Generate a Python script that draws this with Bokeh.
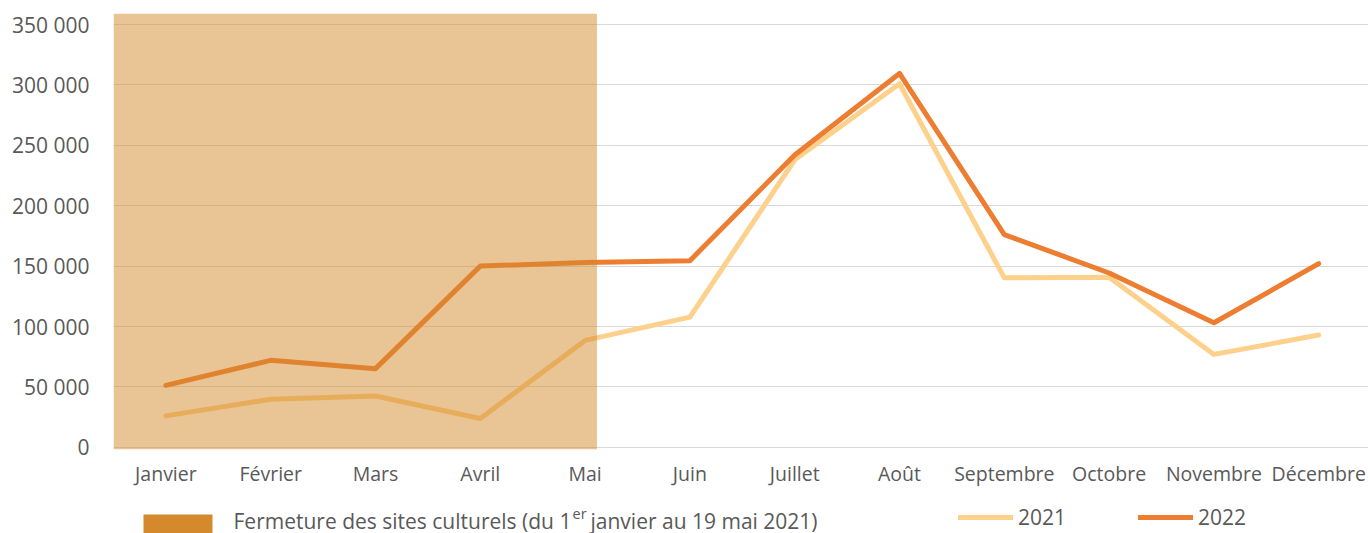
from bokeh.plotting import figure
from bokeh.layouts import column
from bokeh.models import (Range1d, FixedTicker, BoxAnnotation, Legend, LegendItem,
                          Label, ColumnDataSource)
from bokeh.embed import file_html
from bokeh.resources import INLINE

# ---- data -------------------------------------------------------------
months = ["Janvier", "Février", "Mars", "Avril", "Mai", "Juin", "Juillet",
          "Août", "Septembre", "Octobre", "Novembre", "Décembre"]
visitors_2021 = [26000, 39800, 42500, 23800, 88500, 107800, 238000, 301000,
                 140300, 140800, 76900, 92900]
visitors_2022 = [51300, 72000, 65100, 150000, 153000, 154500, 242000, 309500,
                 176100, 144300, 103100, 152000]
y_ticks = [0, 50000, 100000, 150000, 200000, 250000, 300000, 350000]
y_tick_labels = ["0", "50 000", "100 000", "150 000", "200 000", "250 000",
                 "300 000", "350 000"]
series_labels = ["2021", "2022"]
closure_label_parts = ["Fermeture des sites culturels (du 1", "er",
                       "janvier au 19 mai 2021)"]
# closure period, in month-index units (each month spans i-0.5 .. i+0.5)
closure_start = -0.5                 # 1 January
closure_end = 3.5 + 19 / 31          # 19 May

month_index = list(range(len(months)))

# ---- styles -----------------------------------------------------------
C21 = "#FDD08B"
C22 = "#ED7D31"
CLOSURE = "#D4892C"
TXT = "#595959"
FONT = "Open Sans"
LW = 5

W = 1368
H_MAIN = 495
H_LEG = 38
FRAME_LEFT = 113   # legend strip's frame is aligned with the chart's frame

src = ColumnDataSource(dict(x=month_index, y21=visitors_2021, y22=visitors_2022))

p = figure(width=W, height=H_MAIN, output_backend="svg", toolbar_location=None,
           x_range=Range1d(-0.5, 11.475), y_range=Range1d(-1820, 359110),
           min_border_left=FRAME_LEFT, min_border_right=0, min_border_top=13,
           min_border_bottom=H_MAIN - 13 - 436)
p.outline_line_color = None
p.background_fill_color = "white"
p.border_fill_color = "white"

r21 = p.line("x", "y21", source=src, line_color=C21, line_width=LW,
             line_cap="round", line_join="round")
r22 = p.line("x", "y22", source=src, line_color=C22, line_width=LW,
             line_cap="round", line_join="round")

p.add_layout(BoxAnnotation(left=closure_start, right=closure_end,
                           fill_color=CLOSURE, fill_alpha=0.5, line_color=None))

# axes
p.xaxis.ticker = FixedTicker(ticks=month_index)
p.xaxis.major_label_overrides = {i: m for i, m in zip(month_index, months)}
p.yaxis.ticker = FixedTicker(ticks=y_ticks)
p.yaxis.major_label_overrides = {t: l for t, l in zip(y_ticks, y_tick_labels)}
for ax in (p.xaxis, p.yaxis):
    ax.axis_line_color = None
    ax.major_tick_line_color = None
    ax.minor_tick_line_color = None
    ax.major_tick_in = 0
    ax.major_tick_out = 0
    ax.major_label_text_font = FONT
    ax.major_label_text_color = TXT
p.xaxis.major_label_text_font_size = "19.5px"
p.xaxis.major_label_standoff = 10
p.yaxis.major_label_text_font_size = "21px"
p.yaxis.major_label_standoff = 24

p.xgrid.grid_line_color = None
p.ygrid.ticker = FixedTicker(ticks=y_ticks)
p.ygrid.grid_line_color = "#D9D9D9"
p.ygrid.grid_line_width = 1

# ---- legend strip below the chart ------------------------------------
q = figure(width=W, height=H_LEG, output_backend="svg", toolbar_location=None,
           x_axis_type=None, y_axis_type=None,
           x_range=Range1d(0, W), y_range=Range1d(0, H_LEG),
           min_border=0)
q.outline_line_color = None
q.grid.grid_line_color = None
q.background_fill_color = "white"
q.border_fill_color = "white"

# legend-only line renderers (their points lie outside the strip's ranges)
l21 = q.line(x=[-10, -5], y=[-10, -10], line_color=C21, line_width=LW,
             line_cap="round")
l22 = q.line(x=[-10, -5], y=[-10, -10], line_color=C22, line_width=LW,
             line_cap="round")
leg = Legend(items=[LegendItem(label=series_labels[0], renderers=[l21]),
                    LegendItem(label=series_labels[1], renderers=[l22])],
             orientation="horizontal", location=(958 - FRAME_LEFT, 2),
             glyph_width=55, glyph_height=20, label_standoff=5, spacing=72,
             padding=0, margin=0, border_line_color=None,
             background_fill_alpha=0, label_text_font=FONT,
             label_text_font_size="21px", label_text_color=TXT)
q.add_layout(leg, "center")

# swatch for the closure period
q.add_layout(BoxAnnotation(left=143 - FRAME_LEFT, right=212 - FRAME_LEFT,
                           bottom=0, top=19,
                           left_units="screen", right_units="screen",
                           bottom_units="screen", top_units="screen",
                           fill_color=CLOSURE, fill_alpha=1, line_color=None))

q.add_layout(Label(x=233 - FRAME_LEFT, y=13, x_units="screen", y_units="screen",
                   text=closure_label_parts[0], text_font=FONT,
                   text_font_size="21px", text_color=TXT,
                   text_baseline="alphabetic"))
q.add_layout(Label(x=572 - FRAME_LEFT, y=20, x_units="screen", y_units="screen",
                   text=closure_label_parts[1], text_font=FONT,
                   text_font_size="14.5px", text_color=TXT,
                   text_baseline="alphabetic"))
q.add_layout(Label(x=590 - FRAME_LEFT, y=13, x_units="screen", y_units="screen",
                   text=closure_label_parts[2], text_font=FONT,
                   text_font_size="21px", text_color=TXT,
                   text_baseline="alphabetic"))

layout = column(p, q, spacing=0)
open("out.html", "w").write(file_html(layout, INLINE))
